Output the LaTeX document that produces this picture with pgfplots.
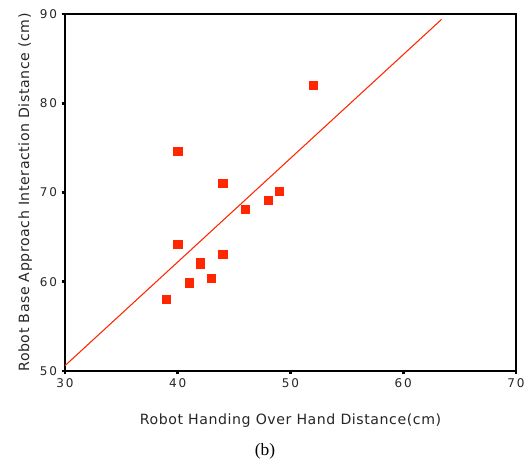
\documentclass[border=0pt]{standalone}
\usepackage{fontspec}
\usepackage{pgfplots}
\pgfplotsset{compat=1.18}
\setmainfont{DejaVu Sans}
\newfontfamily\tickfont[LetterSpace=15]{DejaVu Sans}
\newfontfamily\labelfont[LetterSpace=4]{DejaVu Sans}
\newfontfamily\seriffont{Liberation Serif}
\definecolor{pts}{RGB}{255,38,0}
\begin{document}
\begin{tikzpicture}
\begin{axis}[
  scale only axis,
  width=338.25pt, height=267.75pt,
  xmin=30, xmax=70, ymin=50, ymax=90,
  xtick={30,40,50,60,70}, ytick={50,60,70,80,90},
  xtick pos=left, ytick pos=left,
  tick align=outside,
  major tick length=2.5pt,
  tick style={black, line width=2.2pt},
  axis line style={black, line width=0.8pt},
  /pgf/number format/assume math mode=true,
  ticklabel style={font=\tickfont\fontsize{9pt}{10pt}\selectfont, text=black!85},
  xlabel={Robot Handing Over Hand Distance(cm)},
  ylabel={Robot Base Approach Interaction Distance (cm)},
  label style={font=\labelfont\fontsize{10.6pt}{12pt}\selectfont, text=black!85},
  xlabel style={yshift=-12pt},
  ylabel style={yshift=-1pt},
  clip=false,
]
\addplot[color=pts, line width=0.8pt] coordinates {(30,50.6) (63.4,89.4)};
\addplot[only marks, mark=square*, mark size=3.1pt, color=pts,
  mark options={rounded corners=1.5pt, fill=pts, draw=pts}] coordinates {
  (39,58.0) (41,59.9) (42,62.0) (42,62.2) (43,60.4) (40,64.2) (44,63.1)
  (40,74.6) (44,71.0) (46,68.1) (48,69.1) (49,70.1) (52,82.05)
};
\end{axis}
\node[font=\seriffont\fontsize{13pt}{15pt}\selectfont] at (150pt,-60.5pt) {(b)};
\pgfresetboundingbox
\useasboundingbox (-48.75pt,-68.25pt) rectangle (344.25pt,278.25pt);
\end{tikzpicture}
\end{document}
